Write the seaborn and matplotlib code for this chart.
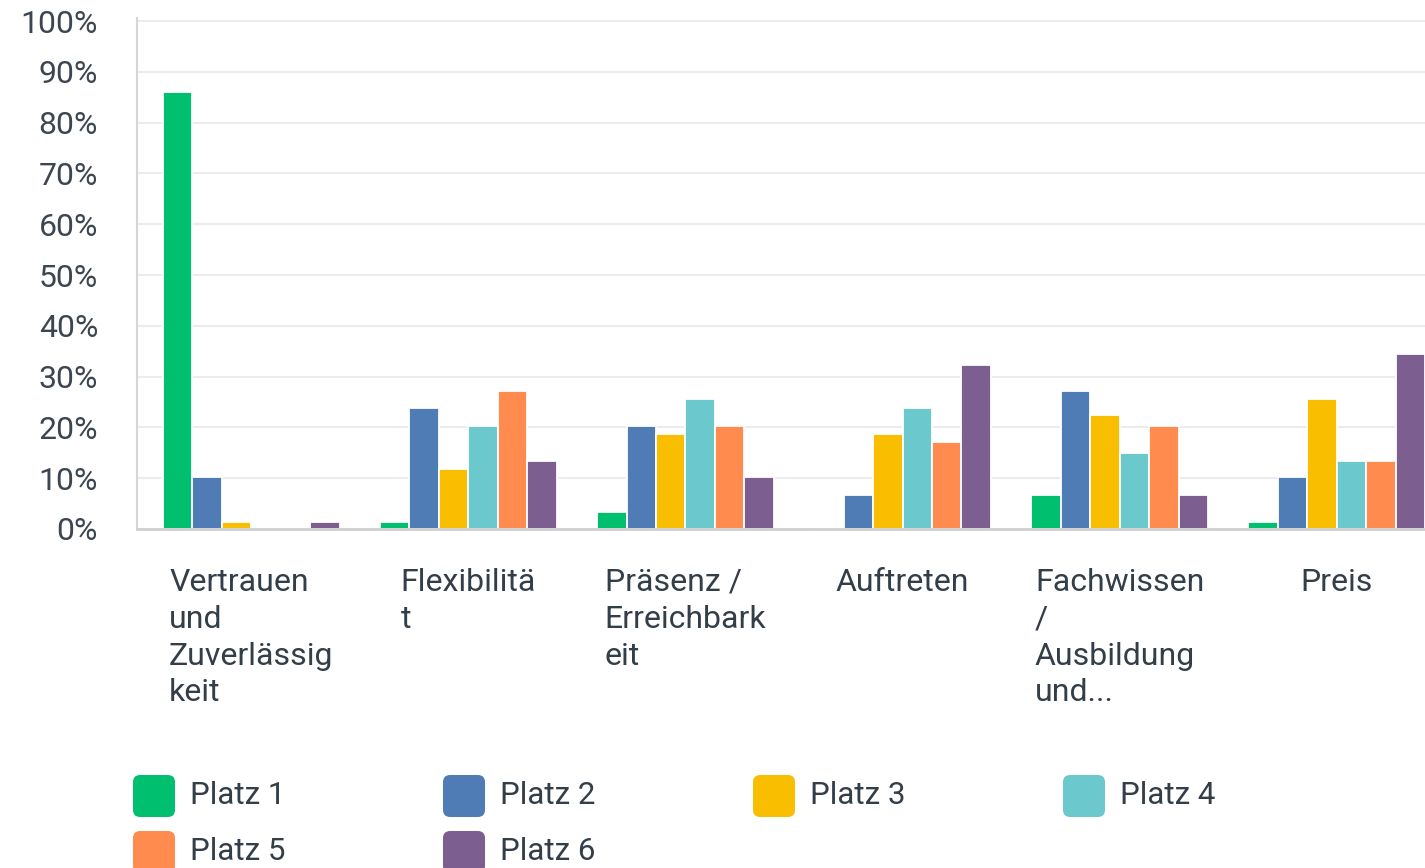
import matplotlib
matplotlib.use("Agg")
import matplotlib.pyplot as plt
from matplotlib.patches import FancyBboxPatch
import seaborn as sns
import pandas as pd

categories = ["Vertrauen\nund\nZuverlässig\nkeit", "Flexibilitä\nt", "Präsenz /\nErreichbark\neit",
              "Auftreten", "Fachwissen\n/\nAusbildung\nund...", "Preis"]
series = ["Platz 1", "Platz 2", "Platz 3", "Platz 4", "Platz 5", "Platz 6"]
platz1 = [86.1, 1.4, 3.4, 0.0, 6.7, 1.4]
platz2 = [10.2, 23.9, 20.3, 6.7, 27.2, 10.2]
platz3 = [1.4, 11.8, 18.7, 18.7, 22.5, 25.6]
platz4 = [0.0, 20.3, 25.6, 23.9, 15.0, 13.4]
platz5 = [0.0, 27.2, 20.3, 17.2, 20.3, 13.4]
platz6 = [1.4, 13.4, 10.2, 32.3, 6.7, 34.5]
colors = ["#00BF6F", "#507CB6", "#F9BE00", "#6BC8CD", "#FF8B4F", "#7D5E90"]

values = [platz1, platz2, platz3, platz4, platz5, platz6]
df = pd.DataFrame({
    "cat": [c for _ in series for c in categories],
    "platz": [s for s in series for _ in categories],
    "pct": [v for vals in values for v in vals],
})

sns.set_style("white")
plt.rcParams["font.family"] = ["Roboto", "DejaVu Sans"]
text_col = "#333e48"

fig = plt.figure(figsize=(14.25, 8.68), dpi=100)
ax = fig.add_axes([137 / 1425, 339 / 868, 1314 / 1425, 511 / 868])

sns.barplot(data=df, x="cat", y="pct", hue="platz", palette=colors, saturation=1,
            width=0.815, edgecolor="white", linewidth=1.3, legend=False, ax=ax)

ax.set_xlim(-0.527, 5.527)
ax.set_ylim(0, 100.6)
ax.set_yticks(range(0, 101, 10))
ax.set_yticklabels([f"{v}%" for v in range(0, 101, 10)], fontsize=23, color="#3d4650")
ax.yaxis.grid(True, color="#ececec", linewidth=1.5)
ax.set_axisbelow(True)
ax.tick_params(axis="y", length=0, pad=28)
ax.tick_params(axis="x", length=0, pad=28)
ax.set_xticks(range(len(categories)))
ax.set_xticklabels(categories, fontsize=23, color=text_col, linespacing=1.34)
for lab in ax.get_xticklabels():
    lab.set_multialignment("left")
ax.set_xlabel("")
ax.set_ylabel("")

for side in ["top", "right"]:
    ax.spines[side].set_visible(False)
ax.spines["left"].set_color("#d6d6d6")
ax.spines["left"].set_linewidth(1.5)
ax.spines["bottom"].set_color("#cfcfcf")
ax.spines["bottom"].set_linewidth(2)

# legend, row-major, 4 columns
for i, (name, col) in enumerate(zip(series, colors)):
    x0 = 133 + (i % 4) * 310
    yc = 796 + (i // 4) * 56
    fig.patches.append(FancyBboxPatch(
        (x0 / 1425, (868 - yc - 21) / 868), 42 / 1425, 42 / 868,
        boxstyle="round,pad=0,rounding_size=0.005", transform=fig.transFigure,
        facecolor=col, edgecolor="none", mutation_aspect=1425 / 868))
    fig.text((x0 + 57) / 1425, (868 - yc) / 868, name, fontsize=22.5,
             color=text_col, va="center", ha="left")

fig.savefig("out.png", dpi=100)
